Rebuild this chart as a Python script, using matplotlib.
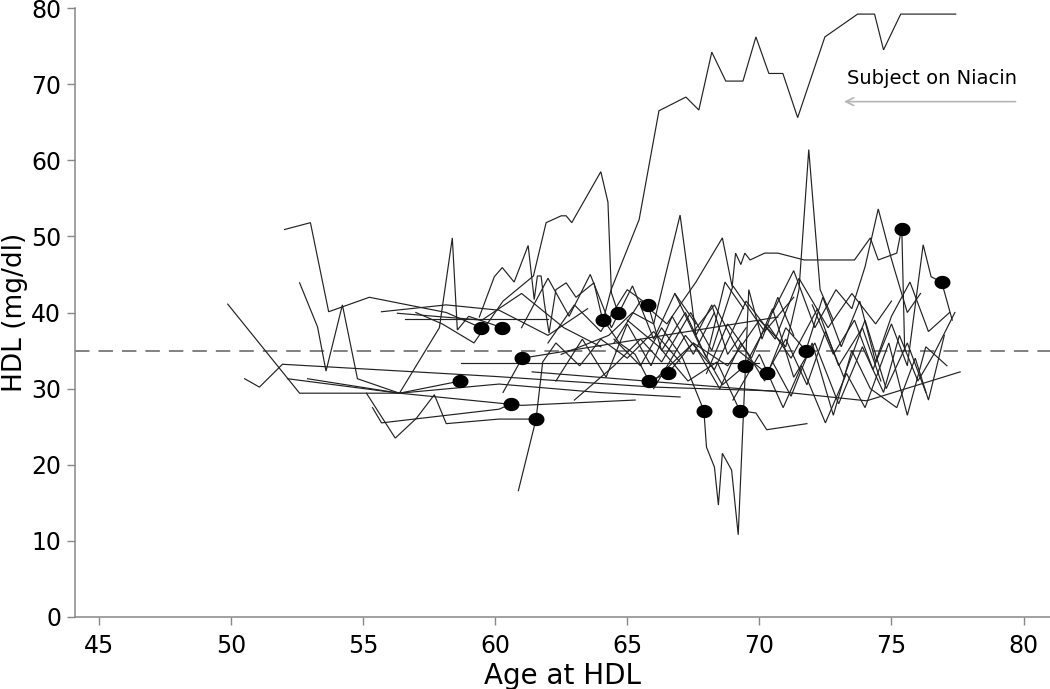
import matplotlib
matplotlib.use("Agg")
import matplotlib.pyplot as plt
from matplotlib.path import Path
import numpy as np

plt.rcParams['font.family'] = ['DejaVu Sans']

# ---- data: age at HDL (years) and HDL (mg/dl) for each subject ----
age_niacin = [64.09, 64.39, 65.45, 66.2, 67.22, 67.71, 68.2, 68.73, 69.38, 69.87, 70.36, 70.89, 71.45, 72.48, 73.72, 74.36, 74.7, 75.35, 77.43]
hdl_niacin = [39.0, 43.0, 52.2, 66.5, 68.3, 66.6, 74.2, 70.4, 70.4, 76.2, 71.4, 71.4, 65.6, 76.2, 79.2, 79.2, 74.5, 79.2, 79.2]

age_s02 = [52.03, 53.01, 53.7, 55.24, 58.15, 59.47]
hdl_s02 = [50.9, 51.8, 40.1, 42.0, 40.0, 38.0]
age_s03 = [49.88, 52.6, 56.38, 58.68]
hdl_s03 = [41.1, 29.4, 29.4, 31.0]
age_s04 = [50.52, 51.08, 51.95, 60.0, 66.0, 70.5, 74.06, 77.6]
hdl_s04 = [31.3, 30.2, 33.2, 31.6, 30.2, 29.7, 28.4, 32.2]
age_s05 = [52.6, 53.28, 53.6, 54.22, 54.79, 56.38, 57.89, 58.38, 58.57, 59.0, 60.27]
hdl_s05 = [43.9, 38.1, 32.3, 41.0, 31.3, 29.4, 38.0, 49.8, 37.7, 39.5, 38.0]
age_s06 = [52.14, 56.38, 60.15, 63.9, 67.0]
hdl_s06 = [31.3, 29.4, 30.6, 29.5, 28.9]
age_s07 = [52.9, 56.38, 61.0, 65.3]
hdl_s07 = [31.3, 29.4, 27.8, 28.5]
age_s08 = [55.13, 56.22, 57.02, 57.7, 58.15, 60.15, 61.55]
hdl_s08 = [29.4, 23.5, 26.1, 29.2, 25.4, 26.0, 26.0]
age_s09 = [55.36, 55.7, 60.15, 60.61]
hdl_s09 = [27.5, 25.5, 27.3, 28.0]
age_s10 = [57.0, 58.0, 59.2, 60.3, 61.45, 61.93, 62.5, 62.69, 62.9, 64.0, 64.27, 64.4, 64.65]
hdl_s10 = [40.0, 38.5, 36.0, 41.5, 44.8, 51.8, 52.7, 52.7, 51.8, 58.5, 54.5, 42.6, 40.0]
age_s11 = [60.88, 61.55, 61.8, 62.3, 63.2, 64.0, 65.0, 66.0, 67.0]
hdl_s11 = [16.6, 26.0, 33.5, 36.0, 33.0, 36.5, 34.0, 37.5, 33.5]
age_s12 = [59.4, 59.97, 60.27, 60.72, 61.25, 61.48, 61.6, 61.74, 61.86, 62.04, 62.3, 62.69, 63.06, 63.74, 64.05, 64.7, 65.3, 65.82, 66.54, 67.5, 68.5]
hdl_s12 = [39.4, 44.7, 45.9, 44.0, 48.8, 41.7, 44.8, 44.8, 41.3, 37.3, 43.0, 43.9, 42.0, 43.9, 39.3, 36.0, 34.5, 31.0, 32.0, 36.0, 30.0]
age_s13 = [63.0, 64.5, 65.5, 66.3, 67.4, 68.2, 69.0, 70.2, 71.3]
hdl_s13 = [28.5, 33.0, 36.5, 33.5, 40.0, 35.0, 43.5, 37.5, 42.0]
age_s14 = [62.5, 64.3, 65.2, 66.0, 67.0, 67.3, 67.6, 68.2, 68.8, 69.5]
hdl_s14 = [34.5, 37.0, 40.0, 38.5, 52.8, 45.0, 37.0, 41.0, 34.5, 38.0]
age_s15 = [64.5, 65.5, 66.5, 67.6, 68.6, 68.97, 69.1, 69.3, 69.45, 69.65, 70.2, 70.7, 71.7, 73.6, 74.2, 74.5, 75.2, 75.39, 75.5]
hdl_s15 = [36.0, 41.5, 38.5, 44.0, 49.8, 43.4, 47.8, 46.3, 47.8, 46.9, 47.8, 47.8, 46.9, 46.9, 49.8, 46.9, 47.8, 51.1, 35.0]
age_s16 = [66.0, 67.5, 68.8, 70.0, 71.0, 71.5, 71.87, 72.3, 72.8]
hdl_s16 = [31.0, 36.0, 33.0, 39.0, 35.5, 43.0, 61.4, 43.0, 39.0]
age_s17 = [64.5, 65.5, 66.3, 67.1, 67.9, 68.0, 68.3, 68.45, 68.6, 68.95, 69.2, 69.6, 70.1, 70.7, 71.3]
hdl_s17 = [36.5, 33.0, 38.0, 34.0, 27.1, 22.3, 19.7, 14.7, 21.5, 19.3, 10.8, 43.0, 36.5, 42.0, 37.0]
age_s18 = [65.0, 66.2, 67.3, 68.4, 69.26, 69.87, 70.28, 71.8]
hdl_s18 = [39.0, 35.5, 31.0, 33.5, 27.1, 26.8, 24.6, 25.4]
age_s19 = [66.8, 67.7, 68.6, 69.45, 70.3, 71.2, 72.2, 73.0, 73.9, 74.6]
hdl_s19 = [42.5, 36.0, 30.5, 33.0, 38.5, 34.0, 40.5, 33.0, 38.0, 31.0]
age_s20 = [67.5, 68.3, 69.2, 70.28, 71.0, 71.8, 72.5, 73.2, 74.0, 74.8, 75.6, 76.3]
hdl_s20 = [37.5, 41.0, 35.0, 32.0, 36.5, 30.5, 37.5, 31.5, 39.0, 30.0, 36.0, 29.5]
age_s21 = [68.5, 69.3, 70.2, 71.0, 71.76, 72.4, 73.1, 73.8, 74.4, 75.0, 75.7, 76.4, 77.2]
hdl_s21 = [30.0, 36.0, 31.0, 38.0, 35.0, 42.0, 35.5, 41.5, 33.5, 39.5, 44.0, 37.5, 40.0]
age_s22 = [72.0, 72.8, 73.6, 74.3, 75.0, 75.6, 76.2, 76.5, 76.9, 77.3]
hdl_s22 = [41.0, 34.5, 39.0, 32.5, 38.5, 33.0, 48.9, 44.7, 44.0, 39.0]
age_s23 = [70.5, 71.2, 72.0, 72.8, 73.5, 74.2, 75.2, 75.9, 76.4, 77.0]
hdl_s23 = [33.5, 29.0, 36.0, 26.5, 35.0, 30.0, 27.5, 34.0, 28.5, 37.0]
age_s24 = [69.0, 70.0, 70.9, 71.6, 72.5, 73.3, 74.0, 74.9, 75.6, 76.3, 77.1]
hdl_s24 = [28.5, 34.5, 27.5, 33.0, 25.5, 32.0, 27.5, 36.0, 26.5, 35.5, 33.0]
age_s25 = [70.5, 71.3, 72.1, 72.9, 73.5, 74.0, 74.5, 75.0, 75.6, 76.1]
hdl_s25 = [40.0, 45.5, 38.0, 43.0, 40.5, 46.0, 53.6, 47.0, 40.0, 42.5]
age_s26 = [60.3, 61.02, 70.7]
hdl_s26 = [29.5, 34.0, 39.4]
age_s27 = [58.72, 70.0]
hdl_s27 = [33.4, 33.4]
age_s28 = [61.4, 70.7]
hdl_s28 = [32.2, 29.6]
age_s29 = [62.0, 63.0, 64.0, 65.0, 65.79, 66.3, 67.2, 68.0, 68.7, 69.4]
hdl_s29 = [36.0, 41.0, 37.5, 43.0, 41.0, 35.0, 40.0, 34.0, 44.0, 40.5]
age_s30 = [55.7, 58.15, 60.15, 62.0, 63.5]
hdl_s30 = [40.1, 41.0, 40.3, 37.0, 40.5]
age_s31 = [56.3, 59.5, 61.0, 62.6, 64.0]
hdl_s31 = [39.9, 39.0, 42.5, 38.0, 35.5]
age_s32 = [56.6, 62.0]
hdl_s32 = [39.2, 39.2]
age_s33 = [66.0, 67.2, 68.3, 69.5, 70.6, 71.5, 72.6, 73.5, 74.4, 75.0]
hdl_s33 = [30.0, 37.0, 32.5, 41.5, 36.5, 44.5, 38.0, 42.5, 38.5, 41.5]
age_s34 = [68.0, 68.8, 69.7, 70.5, 71.3, 72.1, 73.0, 73.9, 74.7, 75.3, 76.0, 76.6, 77.4]
hdl_s34 = [32.0, 38.5, 34.0, 40.5, 31.5, 36.0, 28.0, 35.5, 29.5, 37.0, 31.0, 34.5, 40.0]
age_s35 = [61.0, 62.0, 62.8, 63.6, 64.4, 65.2, 66.0, 66.8, 67.6]
hdl_s35 = [38.0, 44.5, 39.5, 45.0, 38.0, 43.5, 36.5, 42.5, 38.5]
age_s36 = [62.3, 63.3, 64.2, 65.0, 65.9, 66.7, 67.5, 68.3]
hdl_s36 = [31.0, 36.5, 31.5, 38.5, 33.0, 39.5, 34.5, 40.0]

marker_age = [58.68, 59.47, 60.27, 61.02, 60.61, 61.55, 64.09, 64.65, 65.79, 65.82, 66.54, 67.9, 69.26, 69.45, 70.28, 71.76, 75.39, 76.9]
marker_hdl = [31, 38, 38, 34, 28, 26, 39, 40, 41, 31, 32, 27, 27, 33, 32, 35, 51, 44]

threshold_hdl = 35
x_ticks = [45, 50, 55, 60, 65, 70, 75, 80]
y_ticks = [0, 10, 20, 30, 40, 50, 60, 70, 80]
annotation_text = "Subject on Niacin"

subjects = [
    (age_niacin, hdl_niacin), (age_s02, hdl_s02), (age_s03, hdl_s03), (age_s04, hdl_s04),
    (age_s05, hdl_s05), (age_s06, hdl_s06), (age_s07, hdl_s07), (age_s08, hdl_s08),
    (age_s09, hdl_s09), (age_s10, hdl_s10), (age_s11, hdl_s11), (age_s12, hdl_s12),
    (age_s13, hdl_s13), (age_s14, hdl_s14), (age_s15, hdl_s15), (age_s16, hdl_s16),
    (age_s17, hdl_s17), (age_s18, hdl_s18), (age_s19, hdl_s19), (age_s20, hdl_s20),
    (age_s21, hdl_s21), (age_s22, hdl_s22), (age_s23, hdl_s23), (age_s24, hdl_s24),
    (age_s25, hdl_s25), (age_s26, hdl_s26), (age_s27, hdl_s27), (age_s28, hdl_s28),
    (age_s29, hdl_s29), (age_s30, hdl_s30), (age_s31, hdl_s31), (age_s32, hdl_s32),
    (age_s33, hdl_s33), (age_s34, hdl_s34), (age_s35, hdl_s35), (age_s36, hdl_s36),
]

fig = plt.figure(figsize=(10.5, 6.89), dpi=100)
ax = fig.add_axes([75 / 1050, 72 / 689, 975 / 1050, 609 / 689])

for a, h in subjects:
    ax.plot(a, h, color='#222222', lw=0.85, solid_joinstyle='miter', zorder=2)

# slightly wide elliptical dot, as in the reference
theta = np.linspace(0, 2 * np.pi, 60)
ellipse = Path(np.column_stack([1.2 * np.cos(theta), np.sin(theta)]), closed=True)
ax.plot(marker_age, marker_hdl, linestyle='none', marker=ellipse, ms=11.5,
        color='black', markeredgewidth=0, zorder=3)

ax.axhline(threshold_hdl, color='#777777', lw=1.3, dashes=(8, 5), zorder=1)

ax.annotate('', xy=(73.1, 67.7), xytext=(79.8, 67.7),
            arrowprops=dict(arrowstyle='->', color='#b5b5b5', lw=1.2,
                            mutation_scale=14))
ax.text(73.3, 70.8, annotation_text, fontsize=14, color='black',
        ha='left', va='center')

ax.set_xlim(44.1, 81.0)
ax.set_ylim(0, 80)
ax.set_xticks(x_ticks)
ax.set_yticks(y_ticks)
ax.tick_params(axis='both', direction='out', length=6, width=1, color='#888888',
               labelsize=17, pad=4)
ax.tick_params(axis='x', pad=6)
for side in ('top', 'right'):
    ax.spines[side].set_visible(False)
for side in ('left', 'bottom'):
    ax.spines[side].set_color('#888888')
    ax.spines[side].set_linewidth(1.1)

ax.set_xlabel('Age at HDL', fontsize=20, labelpad=3)
ax.set_ylabel('HDL (mg/dl)', fontsize=19, labelpad=2)

fig.savefig('out.png', dpi=100)
